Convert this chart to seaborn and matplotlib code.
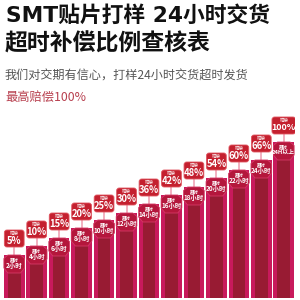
import matplotlib
matplotlib.use("Agg")
import matplotlib.pyplot as plt
import seaborn as sns
import pandas as pd
import numpy as np
from matplotlib.patches import FancyBboxPatch, Polygon

sns.set_theme(style="white")
plt.rcParams['font.family'] = ['Noto Sans CJK SC', 'DejaVu Sans']

hours = ["2小时", "4小时", "6小时", "8小时", "10小时", "12小时", "14小时",
         "16小时", "18小时", "20小时", "22小时", "24小时", "24H以上"]
rates = [5, 10, 15, 20, 25, 30, 36, 42, 48, 54, 60, 66, 100]
bar_level = [43, 52, 60, 70, 78, 85, 94, 103, 111, 120, 128, 138, 156]

title_lines = ["SMT贴片打样 24小时交货", "超时补偿比例查核表"]
subtitle = "我们对交期有信心，打样24小时交货超时发货"
highlight = "最高赔偿100%"

df = pd.DataFrame({"hours": hours, "rate": rates, "level": bar_level})

fig = plt.figure(figsize=(3, 3), dpi=100)
fig.patch.set_facecolor("white")

fig.text(6/300, 1 - 15/300, title_lines[0], fontsize=15.7, fontweight="bold",
         color="#111111", va="center", ha="left",
         family=['DejaVu Sans', 'Noto Sans CJK SC'])
fig.text(5/300, 1 - 44/300, title_lines[1], fontsize=16.5, fontweight="bold",
         color="#111111", va="center", ha="left")
fig.text(5/300, 1 - 76/300, subtitle, fontsize=8.7, color="#555555",
         va="center", ha="left")
fig.text(5/300, 1 - 97/300, highlight, fontsize=8.8, color="#b8404f",
         va="center", ha="left")

H = 190
ax = fig.add_axes([3/300, 2/300, 292/300, H/300])
sns.barplot(data=df, x="hours", y="level", color="#c81a5c", saturation=1,
            width=0.92, ax=ax, edgecolor="none")
inner = df.copy()
inner["level"] = inner["level"] - 14
sns.barplot(data=inner, x="hours", y="level", color="#981b33", saturation=1,
            width=0.56, ax=ax, edgecolor="none")

w = 0.92
for i, (h, r, lv) in enumerate(zip(hours, rates, bar_level)):
    x = i
    hw = w / 2
    c = 0.18
    poly = [(x - hw, lv - 13), (x - hw, lv - 3.5), (x - hw + c, lv),
            (x + hw - c, lv), (x + hw, lv - 3.5), (x + hw, lv - 13),
            (x + 0.28, lv - 18), (x - 0.28, lv - 18)]
    ax.add_patch(Polygon(poly, closed=True, facecolor="#b4173c",
                         edgecolor="#d63a66", lw=0.6, zorder=4))
    ax.text(x, lv - 4.5, "超时", fontsize=3.2, color="white", ha="center",
            va="center", zorder=5, fontweight="bold")
    ax.text(x, lv - 10.5, h, fontsize=4.6 if len(h) < 5 else 4.2,
            color="white", ha="center", va="center", zorder=5,
            fontweight="bold")
    box_bottom = lv + 8
    ax.plot([x, x], [lv, box_bottom], color="#f0a3b5", lw=1.2, zorder=3)
    bw = 0.88 if r < 100 else 1.05
    bh = 17
    ax.add_patch(FancyBboxPatch((x - bw / 2, box_bottom), bw, bh,
                                boxstyle="round,pad=0,rounding_size=0.12",
                                mutation_aspect=22,
                                facecolor="#c4202f", edgecolor="#e05560",
                                lw=0.6, zorder=4))
    ax.text(x, box_bottom + 13.6, "赔偿", fontsize=3.2, color="white",
            ha="center", va="center", zorder=5)
    ax.text(x, box_bottom + 6.3, f"{r}%", fontsize=6.8 if r < 100 else 6.4,
            color="white", ha="center", va="center", zorder=5,
            fontweight="bold")

ax.set_xlim(-0.5, len(hours) - 0.5)
ax.set_ylim(0, H)
ax.axis("off")

fig.savefig("out.png", dpi=100, facecolor="white")
